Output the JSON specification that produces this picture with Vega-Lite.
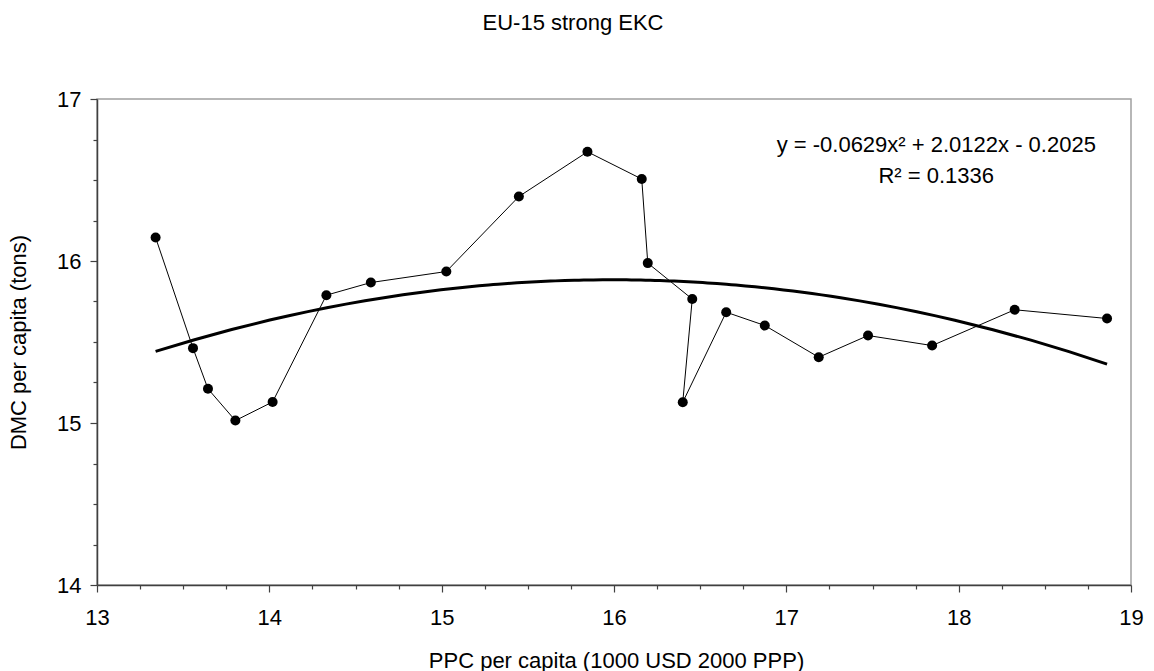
{
  "$schema": "https://vega.github.io/schema/vega-lite/v6.json",
  "width": 1034,
  "height": 486,
  "autosize": "none",
  "padding": {"left": 97, "top": 99, "right": 23, "bottom": 86},
  "background": "white",
  "config": {
    "font": "Liberation Sans",
    "view": {"stroke": "#a0a0a0", "strokeWidth": 1.5}
  },
  "title": {
    "text": "EU-15 strong EKC",
    "anchor": "middle",
    "frame": "group",
    "baseline": "alphabetic",
    "offset": 36,
    "dx": -41,
    "fontSize": 22,
    "fontWeight": "normal",
    "color": "#000000"
  },
  "datasets": {
    "pts": [
      {"i": 1, "x": 13.340, "y": 16.145},
      {"i": 2, "x": 13.557, "y": 15.462},
      {"i": 3, "x": 13.644, "y": 15.211},
      {"i": 4, "x": 13.803, "y": 15.015},
      {"i": 5, "x": 14.019, "y": 15.130},
      {"i": 6, "x": 14.331, "y": 15.789},
      {"i": 7, "x": 14.589, "y": 15.867},
      {"i": 8, "x": 15.027, "y": 15.935},
      {"i": 9, "x": 15.448, "y": 16.398},
      {"i": 10, "x": 15.846, "y": 16.674},
      {"i": 11, "x": 16.161, "y": 16.506},
      {"i": 12, "x": 16.196, "y": 15.987},
      {"i": 13, "x": 16.454, "y": 15.765},
      {"i": 14, "x": 16.399, "y": 15.128},
      {"i": 15, "x": 16.651, "y": 15.684},
      {"i": 16, "x": 16.875, "y": 15.602},
      {"i": 17, "x": 17.188, "y": 15.406},
      {"i": 18, "x": 17.474, "y": 15.540},
      {"i": 19, "x": 17.846, "y": 15.478},
      {"i": 20, "x": 18.325, "y": 15.699},
      {"i": 21, "x": 18.861, "y": 15.645}
    ]
  },
  "encoding": {
    "x": {
      "field": "x",
      "type": "quantitative",
      "scale": {"domain": [13, 19], "nice": false, "zero": false},
      "axis": {
        "title": "PPC per capita (1000 USD 2000 PPP)",
        "titleFontSize": 22,
        "titleFontWeight": "normal",
        "titleColor": "#000000",
        "titleX": 519,
        "titleY": 82,
        "titleAlign": "center",
        "titleBaseline": "alphabetic",
        "values": [13, 13.25, 13.5, 13.75, 14, 14.25, 14.5, 14.75, 15, 15.25, 15.5, 15.75, 16, 16.25, 16.5, 16.75, 17, 17.25, 17.5, 17.75, 18, 18.25, 18.5, 18.75, 19],
        "labelExpr": "datum.value % 1 === 0 ? format(datum.value, 'd') : ''",
        "labelFontSize": 22,
        "labelColor": "#000000",
        "labelPadding": 15,
        "labelFlush": false,
        "labelOverlap": false,
        "grid": false,
        "domainColor": "#404040",
        "domainWidth": 1.5,
        "tickColor": "#404040",
        "tickWidth": 1.2,
        "tickSize": {"condition": {"test": "datum.value % 1 === 0", "value": 7}, "value": 4}
      }
    },
    "y": {
      "field": "y",
      "type": "quantitative",
      "scale": {"domain": [14, 17], "nice": false, "zero": false},
      "axis": {
        "title": "DMC per capita (tons)",
        "titleFontSize": 22,
        "titleFontWeight": "normal",
        "titleColor": "#000000",
        "titleX": -79,
        "titleY": 243,
        "titleAngle": 270,
        "titleAlign": "center",
        "titleBaseline": "middle",
        "values": [14, 14.25, 14.5, 14.75, 15, 15.25, 15.5, 15.75, 16, 16.25, 16.5, 16.75, 17],
        "labelExpr": "datum.value % 1 === 0 ? format(datum.value, 'd') : ''",
        "labelFontSize": 22,
        "labelColor": "#000000",
        "labelPadding": 9,
        "labelFlush": false,
        "labelOverlap": false,
        "grid": false,
        "domainColor": "#404040",
        "domainWidth": 1.5,
        "tickColor": "#404040",
        "tickWidth": 1.2,
        "tickSize": {"condition": {"test": "datum.value % 1 === 0", "value": 7}, "value": 4}
      }
    }
  },
  "layer": [
    {
      "data": {"name": "pts"},
      "mark": {"type": "line", "color": "#000000", "strokeWidth": 1},
      "encoding": {"order": {"field": "i", "type": "quantitative"}}
    },
    {
      "data": {"name": "pts"},
      "mark": {"type": "circle", "color": "#000000", "opacity": 1, "size": 100}
    },
    {
      "data": {"name": "pts"},
      "transform": [{"regression": "y", "on": "x", "method": "poly", "order": 2}],
      "mark": {"type": "line", "color": "#000000", "strokeWidth": 3}
    },
    {
      "data": {"values": [
        {"x": 17.87, "y": 16.670, "label": "y = -0.0629x² + 2.0122x - 0.2025"},
        {"x": 17.87, "y": 16.481, "label": "R² = 0.1336"}
      ]},
      "mark": {"type": "text", "fontSize": 22, "align": "center", "baseline": "alphabetic", "color": "#000000"},
      "encoding": {"text": {"field": "label", "type": "nominal"}}
    }
  ]
}
